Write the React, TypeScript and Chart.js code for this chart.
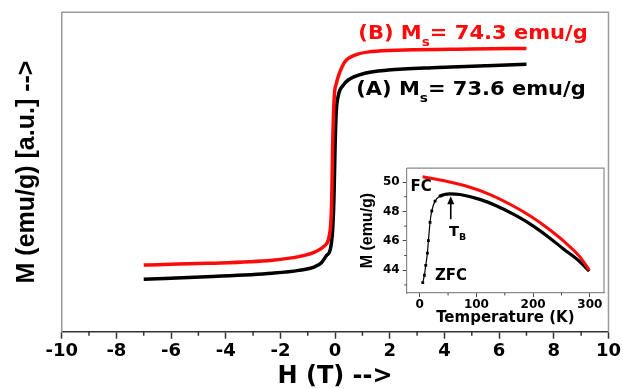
import React, { useEffect, useRef } from 'react';
import { Chart, registerables } from 'chart.js';

Chart.register(...registerables);

// ---- Main hysteresis loops (M in arbitrary units) ----
const H_A = [-7, -4.7, -2.3, -1.33, -0.73, -0.5, -0.3, -0.18, -0.09, -0.04, 0.0, 0.04, 0.12, 0.3, 0.48, 1.09, 1.94, 3.76, 5.57, 7];
const M_A = [16.4, 17.2, 18.3, 19.2, 20.4, 21.6, 24.0, 25.6, 31.8, 42.3, 57.9, 68.4, 74.0, 77.2, 78.8, 80.9, 81.9, 82.7, 83.3, 83.7];

const H_B = [-7, -4.7, -2.3, -1.33, -0.73, -0.4, -0.18, -0.12, -0.09, -0.03, 0.05, 0.12, 0.36, 0.73, 1.33, 2.55, 4.97, 7];
const M_B = [20.9, 21.4, 22.4, 23.5, 25.0, 26.8, 31.8, 42.3, 57.9, 73.6, 77.8, 80.0, 84.5, 86.6, 87.7, 88.2, 88.5, 88.7];

const X_TICK_STEP = 2;
const X_MINOR = [-9, -7, -5, -3, -1, 1, 3, 5, 7, 9];

// ---- Inset: FC / ZFC ----
const T_FC = [5, 25, 47, 83, 124, 165, 195, 224, 253, 283, 299];
const M_FC = [50.36, 50.22, 50.05, 49.71, 49.15, 48.37, 47.69, 46.91, 46.01, 44.89, 44.0];

const T_ZFC = [5.3, 8.2, 10.6, 13.5, 15.3, 18.2, 21.2, 27, 35.8, 53.5, 71, 106, 136, 165, 195, 224, 253, 283, 299];
const M_ZFC = [43.15, 43.66, 44.33, 45.16, 46.01, 47.25, 48.03, 48.7, 49.04, 49.2, 49.15, 48.82, 48.37, 47.81, 47.14, 46.35, 45.46, 44.56, 43.93];

const INSET_X_MINOR = [50, 150, 250];
const INSET_Y_MINOR = [43, 45, 47, 49];

const RED = '#ff0a0a';
const BLACK = '#000000';

type Part = { text: string; font: string; color: string; dy?: number };

function drawRich(ctx: CanvasRenderingContext2D, x: number, y: number, parts: Part[], sx: number) {
  ctx.save();
  ctx.translate(x, y);
  ctx.scale(sx, 1);
  ctx.textBaseline = 'alphabetic';
  ctx.textAlign = 'left';
  let cx = 0;
  for (const p of parts) {
    ctx.font = p.font;
    ctx.fillStyle = p.color;
    ctx.fillText(p.text, cx, p.dy || 0);
    cx += ctx.measureText(p.text).width;
  }
  ctx.restore();
}

const mainDecor = {
  id: 'mainDecor',
  beforeDatasetsDraw(chart: any) {
    const { ctx, chartArea: a, scales } = chart;
    ctx.save();
    ctx.strokeStyle = '#9a9a9a';
    ctx.lineWidth = 1.5;
    ctx.beginPath();
    ctx.moveTo(a.left, a.top);
    ctx.lineTo(a.right, a.top);
    ctx.lineTo(a.right, a.bottom);
    ctx.stroke();
    ctx.strokeStyle = '#333';
    ctx.lineWidth = 1.5;
    ctx.beginPath();
    for (const v of X_MINOR) {
      const px = scales.x.getPixelForValue(v);
      ctx.moveTo(px, a.bottom);
      ctx.lineTo(px, a.bottom + 4);
    }
    ctx.stroke();
    ctx.restore();
  },
  afterDatasetsDraw(chart: any) {
    const { ctx, scales } = chart;
    const big = "bold 20px 'DejaVu Sans'";
    const sub = "bold 13px 'DejaVu Sans'";
    drawRich(ctx, scales.x.getPixelForValue(0.85), scales.y.getPixelForValue(91.6), [
      { text: '(B) M', font: big, color: RED },
      { text: 's', font: sub, color: RED, dy: 7 },
      { text: '= 74.3 emu/g', font: big, color: RED },
    ], 1.05);
    drawRich(ctx, scales.x.getPixelForValue(0.77), scales.y.getPixelForValue(74.0), [
      { text: '(A) M', font: big, color: BLACK },
      { text: 's', font: sub, color: BLACK, dy: 7 },
      { text: '= 73.6 emu/g', font: big, color: BLACK },
    ], 1.05);
  },
};

const insetDecor = {
  id: 'insetDecor',
  beforeDatasetsDraw(chart: any) {
    const { ctx, chartArea: a, scales } = chart;
    ctx.save();
    ctx.strokeStyle = '#8a8a8a';
    ctx.lineWidth = 1.2;
    ctx.beginPath();
    ctx.moveTo(a.left, a.top);
    ctx.lineTo(a.right, a.top);
    ctx.lineTo(a.right, a.bottom);
    ctx.stroke();
    ctx.strokeStyle = '#444';
    ctx.lineWidth = 1;
    ctx.beginPath();
    for (const v of INSET_X_MINOR) {
      const px = scales.x.getPixelForValue(v);
      ctx.moveTo(px, a.bottom);
      ctx.lineTo(px, a.bottom + 2.5);
    }
    for (const v of INSET_Y_MINOR) {
      const py = scales.y.getPixelForValue(v);
      ctx.moveTo(a.left, py);
      ctx.lineTo(a.left - 2.5, py);
    }
    ctx.stroke();
    ctx.restore();
  },
  afterDatasetsDraw(chart: any) {
    const { ctx, scales } = chart;
    const x = scales.x;
    const y = scales.y;
    ctx.save();
    ctx.fillStyle = '#000';
    ctx.textBaseline = 'middle';
    ctx.textAlign = 'center';
    ctx.font = "bold 15px 'DejaVu Sans'";
    ctx.fillText('FC', x.getPixelForValue(2.3), y.getPixelForValue(49.64));
    ctx.fillText('ZFC', x.getPixelForValue(55.2), y.getPixelForValue(43.6));
    const ax = x.getPixelForValue(54.7);
    const yTail = y.getPixelForValue(47.47);
    const yTip = y.getPixelForValue(49.04);
    ctx.strokeStyle = '#000';
    ctx.lineWidth = 1.6;
    ctx.beginPath();
    ctx.moveTo(ax, yTail);
    ctx.lineTo(ax, yTip + 5);
    ctx.stroke();
    ctx.beginPath();
    ctx.moveTo(ax, yTip);
    ctx.lineTo(ax - 3.5, yTip + 8);
    ctx.lineTo(ax + 3.5, yTip + 8);
    ctx.closePath();
    ctx.fill();
    ctx.restore();
    drawRich(ctx, x.getPixelForValue(51.5), y.getPixelForValue(46.68) + 5, [
      { text: 'T', font: "bold 14px 'DejaVu Sans'", color: BLACK },
      { text: 'B', font: "bold 9px 'DejaVu Sans'", color: BLACK, dy: 4 },
    ], 1.05);
  },
};

export default function App() {
  const mainRef = useRef<HTMLCanvasElement>(null);
  const insetRef = useRef<HTMLCanvasElement>(null);

  useEffect(() => {
    const main = new Chart(mainRef.current as HTMLCanvasElement, {
      type: 'line',
      data: {
        datasets: [
          {
            data: H_B.map((h, i) => ({ x: h, y: M_B[i] })),
            borderColor: RED,
            borderWidth: 3.5,
            pointRadius: 0,
            cubicInterpolationMode: 'monotone',
            fill: false,
          },
          {
            data: H_A.map((h, i) => ({ x: h, y: M_A[i] })),
            borderColor: BLACK,
            borderWidth: 3.5,
            pointRadius: 0,
            cubicInterpolationMode: 'monotone',
            fill: false,
          },
        ],
      },
      options: {
        animation: false,
        responsive: false,
        layout: { padding: { top: 12.3, right: 11.3, left: 0, bottom: 0 } },
        plugins: { legend: { display: false }, tooltip: { enabled: false } },
        scales: {
          x: {
            type: 'linear',
            min: -10,
            max: 10,
            ticks: {
              stepSize: X_TICK_STEP,
              color: '#000',
              font: { family: 'DejaVu Sans', weight: 'bold', size: 18 },
              padding: 2,
              maxRotation: 0,
              autoSkip: false,
              includeBounds: false,
            },
            grid: { drawOnChartArea: false, drawTicks: true, tickLength: 7, tickColor: '#333', tickWidth: 1.5 },
            border: { color: '#333', width: 1.5 },
            title: {
              display: true,
              text: 'H (T) -->',
              color: '#000',
              font: { family: 'DejaVu Sans', weight: 'bold', size: 24, lineHeight: 1 },
              padding: { top: 0, bottom: 0 },
            },
            afterFit: (s: any) => { s.height = 57.3; },
          },
          y: {
            type: 'linear',
            min: 0,
            max: 100,
            ticks: { display: false },
            grid: { display: false },
            border: { display: true, color: '#9a9a9a', width: 1.5 },
            title: {
              display: true,
              text: 'M (emu/g) [a.u.] -->',
              color: '#000',
              font: { family: 'Liberation Sans', weight: 'bold', size: 25, lineHeight: 1 },
              padding: { top: 14.5, bottom: 0 },
            },
            afterFit: (s: any) => { s.width = 61.7; },
          },
        },
      } as any,
      plugins: [mainDecor],
    });

    const inset = new Chart(insetRef.current as HTMLCanvasElement, {
      type: 'line',
      data: {
        datasets: [
          {
            data: T_FC.map((t, i) => ({ x: t, y: M_FC[i] })),
            borderColor: RED,
            borderWidth: 3,
            pointRadius: 0,
            cubicInterpolationMode: 'monotone',
            fill: false,
          },
          {
            data: T_ZFC.map((t, i) => ({ x: t, y: M_ZFC[i] })),
            borderColor: BLACK,
            borderWidth: 3,
            segment: { borderWidth: (ctx: any) => (ctx.p0DataIndex < 8 ? 1.2 : 3.2) },
            pointRadius: (ctx: any) => (ctx.dataIndex < 9 ? 2 : 0),
            pointStyle: 'rect',
            pointBackgroundColor: BLACK,
            pointBorderColor: BLACK,
            pointBorderWidth: 0,
            cubicInterpolationMode: 'monotone',
            fill: false,
          },
        ],
      },
      options: {
        animation: false,
        responsive: false,
        layout: { padding: { top: 8.7, right: 11, left: 0, bottom: 0 } },
        plugins: { legend: { display: false }, tooltip: { enabled: false } },
        scales: {
          x: {
            type: 'linear',
            min: -23,
            max: 325,
            ticks: {
              stepSize: 100,
              includeBounds: false,
              color: '#000',
              font: { family: 'DejaVu Sans', weight: 'bold', size: 12 },
              padding: 1,
              maxRotation: 0,
              autoSkip: false,
            },
            grid: { drawOnChartArea: false, drawTicks: true, tickLength: 4, tickColor: '#444', tickWidth: 1 },
            border: { color: '#8a8a8a', width: 1.2 },
            title: {
              display: true,
              text: 'Temperature (K)',
              color: '#000',
              font: { family: 'DejaVu Sans', weight: 'bold', size: 15, lineHeight: 1 },
              padding: { top: 0, bottom: 7.5 },
            },
            afterFit: (s: any) => { s.height = 40; },
          },
          y: {
            type: 'linear',
            min: 42.45,
            max: 50.94,
            ticks: {
              stepSize: 2,
              includeBounds: false,
              color: '#000',
              font: { family: 'DejaVu Sans', weight: 'bold', size: 12 },
              padding: 3,
            },
            grid: { drawOnChartArea: false, drawTicks: true, tickLength: 4, tickColor: '#444', tickWidth: 1 },
            border: { color: '#8a8a8a', width: 1.2 },
            title: {
              display: true,
              text: 'M (emu/g)',
              color: '#000',
              font: { family: 'Liberation Sans', weight: 'bold', size: 16, lineHeight: 1 },
              padding: { top: 5, bottom: 0 },
            },
            afterFit: (s: any) => { s.width = 51.7; },
          },
        },
      } as any,
      plugins: [insetDecor],
    });

    return () => {
      main.destroy();
      inset.destroy();
    };
  }, []);

  return (
    <div style={{ position: 'absolute', left: 0, top: 0, width: 623, height: 389, background: '#fff' }}>
      <canvas ref={mainRef} width={623} height={389} style={{ position: 'absolute', left: 0, top: 0 }} />
      <canvas ref={insetRef} width={260} height={175} style={{ position: 'absolute', left: 355, top: 158 }} />
    </div>
  );
}
